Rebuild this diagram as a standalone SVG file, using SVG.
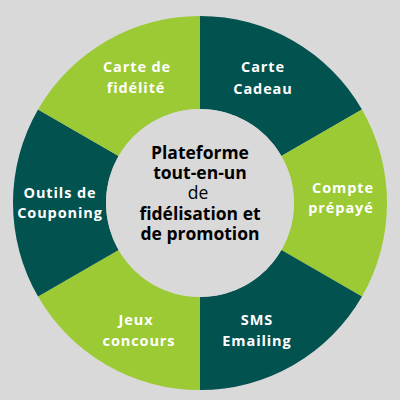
<svg xmlns="http://www.w3.org/2000/svg" width="400" height="400" viewBox="0 0 400 400">
<style>
.dark{fill:#02524f}
.light{fill:#9bca34}
.lbl{font-family:"Open Sans","DejaVu Sans",sans-serif;font-weight:700;font-size:14.5px;fill:#ffffff;text-anchor:middle;letter-spacing:0.9px}
.ctr{font-family:"Open Sans","DejaVu Sans",sans-serif;font-weight:700;font-size:17.5px;fill:#000000;text-anchor:middle}
.reg{font-weight:400}
</style>
<rect width="400" height="400" fill="#d9d9d9"/>
<g id="carte-cadeau">
<path class="dark" d="M200,16 A187,187 0 0 1 361.95,109.5 L281.41,156 A94,94 0 0 0 200,109 Z"/>
<text class="lbl" x="263" y="72">Carte</text>
<text class="lbl" x="263" y="94">Cadeau</text>
</g>
<g id="compte-prepaye">
<path class="light" d="M361.95,109.5 A187,187 0 0 1 361.95,296.5 L281.41,250 A94,94 0 0 0 281.41,156 Z"/>
<text class="lbl" x="343" y="193">Compte</text>
<text class="lbl" x="341" y="213">prépayé</text>
</g>
<g id="sms-emailing">
<path class="dark" d="M361.95,296.5 A187,187 0 0 1 200,390 L200,297 A94,94 0 0 0 281.41,250 Z"/>
<text class="lbl" x="257" y="325">SMS</text>
<text class="lbl" x="257" y="346">Emailing</text>
</g>
<g id="jeux-concours">
<path class="light" d="M200,390 A187,187 0 0 1 38.05,296.5 L118.59,250 A94,94 0 0 0 200,297 Z"/>
<text class="lbl" x="136" y="325">Jeux</text>
<text class="lbl" x="139" y="346">concours</text>
</g>
<g id="outils-couponing">
<path class="dark" d="M38.05,296.5 A187,187 0 0 1 38.05,109.5 L118.59,156 A94,94 0 0 0 118.59,250 Z"/>
<text class="lbl" x="60" y="198">Outils de</text>
<text class="lbl" x="60" y="218">Couponing</text>
</g>
<g id="carte-fidelite">
<path class="light" d="M38.05,109.5 A187,187 0 0 1 200,16 L200,109 A94,94 0 0 0 118.59,156 Z"/>
<text class="lbl" x="137" y="72">Carte de</text>
<text class="lbl" x="136" y="93">fidélité</text>
</g>
<g id="centre">
<circle cx="200" cy="203" r="94" fill="#d9d9d9"/>
<text class="ctr" x="200" y="159">Plateforme</text>
<text class="ctr" x="200" y="179">tout-en-un</text>
<text class="ctr reg" x="198" y="199">de</text>
<text class="ctr" x="200" y="220">fidélisation et</text>
<text class="ctr" x="200" y="240">de promotion</text>
</g>
</svg>
